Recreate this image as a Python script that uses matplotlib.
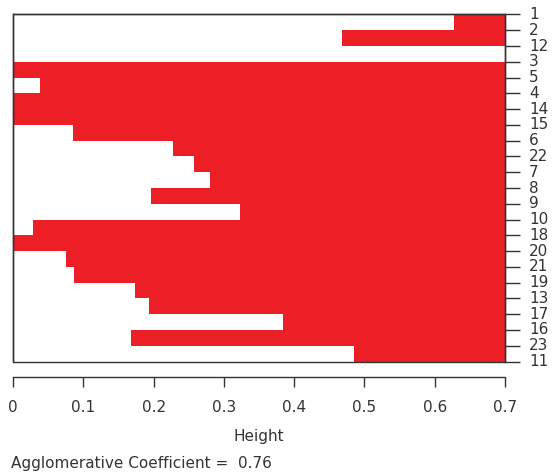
import matplotlib
matplotlib.use("Agg")
import matplotlib.pyplot as plt
from matplotlib.patches import Rectangle

# Order of observations (top to bottom) and merge heights between neighbours
labels = ["1", "2", "12", "3", "5", "4", "14", "15", "6", "22", "7", "8",
          "9", "10", "18", "20", "21", "19", "13", "17", "16", "23", "11"]
heights = [0.627, 0.468, 0.70, 0.0, 0.038, 0.0, 0.0, 0.085, 0.228, 0.257,
           0.280, 0.196, 0.323, 0.029, 0.0, 0.076, 0.087, 0.174, 0.193,
           0.384, 0.168, 0.485]
max_height = 0.70
coef = 0.76
xticks = [0, 0.1, 0.2, 0.3, 0.4, 0.5, 0.6, 0.7]

W, H = 554, 473
fig = plt.figure(figsize=(W / 100, H / 100), dpi=100)
plt.rcParams['font.family'] = ['DejaVu Sans']
fs = 11

left, right, top, bottom = 13, 505, 14.5, 361.5
ax = fig.add_axes([left / W, 1 - bottom / H, (right - left) / W, (bottom - top) / H])

red = '#EC1F26'
ink = '#333333'
for i, h in enumerate(heights):
    ax.barh(i + 0.5, max_height - h, left=h, height=1.0, color=red,
            linewidth=0, align='center')

ax.set_xlim(0, max_height)
ax.set_ylim(len(labels) - 1, 0)

# box
for s in ['top', 'left', 'right']:
    ax.spines[s].set_color(ink)
    ax.spines[s].set_linewidth(1.0)
ax.add_patch(Rectangle((0, 0), 1, 1, transform=ax.transAxes, fill=False,
                       edgecolor=ink, linewidth=1.0, clip_on=False, zorder=5))

# bottom axis detached
ax.spines['bottom'].set_position(('outward', 10.8))
ax.spines['bottom'].set_color(ink)
ax.spines['bottom'].set_linewidth(1.0)
ax.set_xticks(xticks)
ax.set_xticklabels([f"{v:g}" for v in xticks])
ax.tick_params(axis='x', direction='out', length=7, width=1.0, color=ink,
               labelsize=fs, labelcolor=ink, pad=10)

# right axis with labels
ax.yaxis.tick_right()
ax.set_yticks(range(len(labels)))
ax.set_yticklabels(labels)
ax.tick_params(axis='y', direction='out', length=10.8, width=1.0, color=ink,
               labelsize=fs, labelcolor=ink, pad=6.5, left=False)
for lab in ax.get_yticklabels():
    lab.set_verticalalignment('center')

fig.text(259 / W, 1 - 436 / H, "Height", ha='center', va='center',
         fontsize=fs, color=ink)
fig.text(11 / W, 1 - 463 / H, f"Agglomerative Coefficient =  {coef:.2f}",
         ha='left', va='center', fontsize=fs, color=ink)

fig.savefig("out.png", dpi=100)
